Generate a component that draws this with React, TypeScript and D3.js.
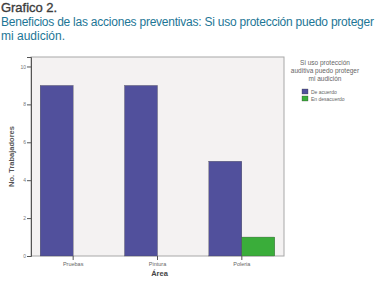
import React, { useRef, useEffect } from 'react';
import * as d3 from 'd3';

const areas = ['Pruebas', 'Pintura', 'Poleria'];
const deAcuerdo = [9, 9, 5];
const enDesacuerdo = [0, 0, 1];
const series = ['De acuerdo', 'En desacuerdo'];
const yTicks = [0, 2, 4, 6, 8, 10];

const App = () => {
  const ref = useRef<SVGSVGElement>(null);

  useEffect(() => {
    const svg = d3.select(ref.current);
    svg.selectAll('*').remove();

    const left = 31, right = 284, top = 57, bottom = 256;
    const font = 'Liberation Sans, Arial, sans-serif';
    const colors = d3.scaleOrdinal<string, string>().domain(series).range(['#51509c', '#3aad3a']);

    // title
    svg.append('text').attr('x', 1).attr('y', 12)
      .attr('font-family', font).attr('font-size', 13)
      .attr('fill', '#3c3c3c').attr('stroke', '#3c3c3c').attr('stroke-width', 0.35)
      .attr('textLength', 56).text('Grafico 2.');
    const sub = svg.append('text').attr('font-family', font)
      .attr('font-size', 12).attr('fill', '#1d7696');
    sub.append('tspan').attr('x', 1).attr('y', 26).attr('textLength', 373)
      .text('Beneficios de las acciones preventivas: Si uso protección puedo proteger');
    sub.append('tspan').attr('x', 1).attr('y', 40).attr('textLength', 64).text('mi audición.');

    const x = d3.scaleBand().domain(areas).range([left, right]).paddingInner(0).paddingOuter(0);
    const y = d3.scaleLinear().domain([0, 10.5]).range([bottom, top]);
    const inner = d3.scaleBand().domain(series).range([-33, 33]);

    svg.append('rect').attr('x', left).attr('y', top).attr('width', right - left).attr('height', bottom - top)
      .attr('fill', '#f4f2f2').attr('stroke', '#a8a8a8').attr('stroke-width', 1);

    const g = svg.append('g');
    const rows = areas.map((a, i) => [
      { area: a, s: series[0], v: deAcuerdo[i] },
      { area: a, s: series[1], v: enDesacuerdo[i] },
    ]).flat().filter(d => d.v > 0);

    g.selectAll('rect.bar').data(rows).join('rect')
      .attr('class', 'bar')
      .attr('x', d => (x(d.area) as number) + x.bandwidth() / 2 + (inner(d.s) as number))
      .attr('y', d => y(d.v))
      .attr('width', inner.bandwidth())
      .attr('height', d => y(0) - y(d.v))
      .attr('fill', d => colors(d.s))
      .attr('stroke', '#444').attr('stroke-width', 0.3);

    // y axis
    const ya = svg.append('g').attr('transform', `translate(${left},0)`)
      .call(d3.axisLeft(y).tickValues(yTicks).tickSize(4).tickPadding(1));
    ya.select('.domain').attr('stroke', '#555');
    ya.selectAll('line').attr('stroke', '#555');
    ya.selectAll('text').attr('font-size', 5).attr('fill', '#777').attr('font-family', font);

    // x axis
    const xa = svg.append('g').attr('transform', `translate(0,${bottom})`)
      .call(d3.axisBottom(x).tickSize(4).tickPadding(2));
    xa.select('.domain').remove();
    xa.selectAll('line').attr('stroke', '#555');
    xa.selectAll('text').attr('font-size', 5.5).attr('fill', '#666').attr('font-family', font);

    svg.append('text').attr('x', (left + right) / 2 + 2).attr('y', 276).attr('text-anchor', 'middle')
      .attr('font-family', font).attr('font-size', 7.5)
      .attr('font-weight', 'bold').attr('fill', '#444').text('Área');

    svg.append('text').attr('transform', `translate(14,${(top + bottom) / 2}) rotate(-90)`)
      .attr('text-anchor', 'middle')
      .attr('font-family', font).attr('font-size', 7.5)
      .attr('font-weight', 'bold').attr('fill', '#555').text('No. Trabajadores');

    // legend
    const lt = svg.append('text').attr('text-anchor', 'middle')
      .attr('font-family', font).attr('font-size', 6.5).attr('fill', '#666');
    ['Si uso protección', 'auditiva puedo proteger', 'mi audición'].forEach((t, i) => {
      lt.append('tspan').attr('x', 325).attr('y', 65 + i * 8).text(t);
    });
    const lg = svg.append('g').selectAll('g').data(series).join('g')
      .attr('transform', (d, i) => `translate(302,${89 + i * 7})`);
    lg.append('rect').attr('width', 6).attr('height', 5).attr('fill', d => colors(d))
      .attr('stroke', '#333').attr('stroke-width', 0.3);
    lg.append('text').attr('x', 9).attr('y', 4.5).attr('font-size', 5)
      .attr('font-family', font).attr('fill', '#666').text(d => d);
  }, []);

  return (
    <svg ref={ref} width={380} height={283}
      style={{ position: 'absolute', left: 0, top: 0, background: 'white' }} />
  );
};

export default App;
